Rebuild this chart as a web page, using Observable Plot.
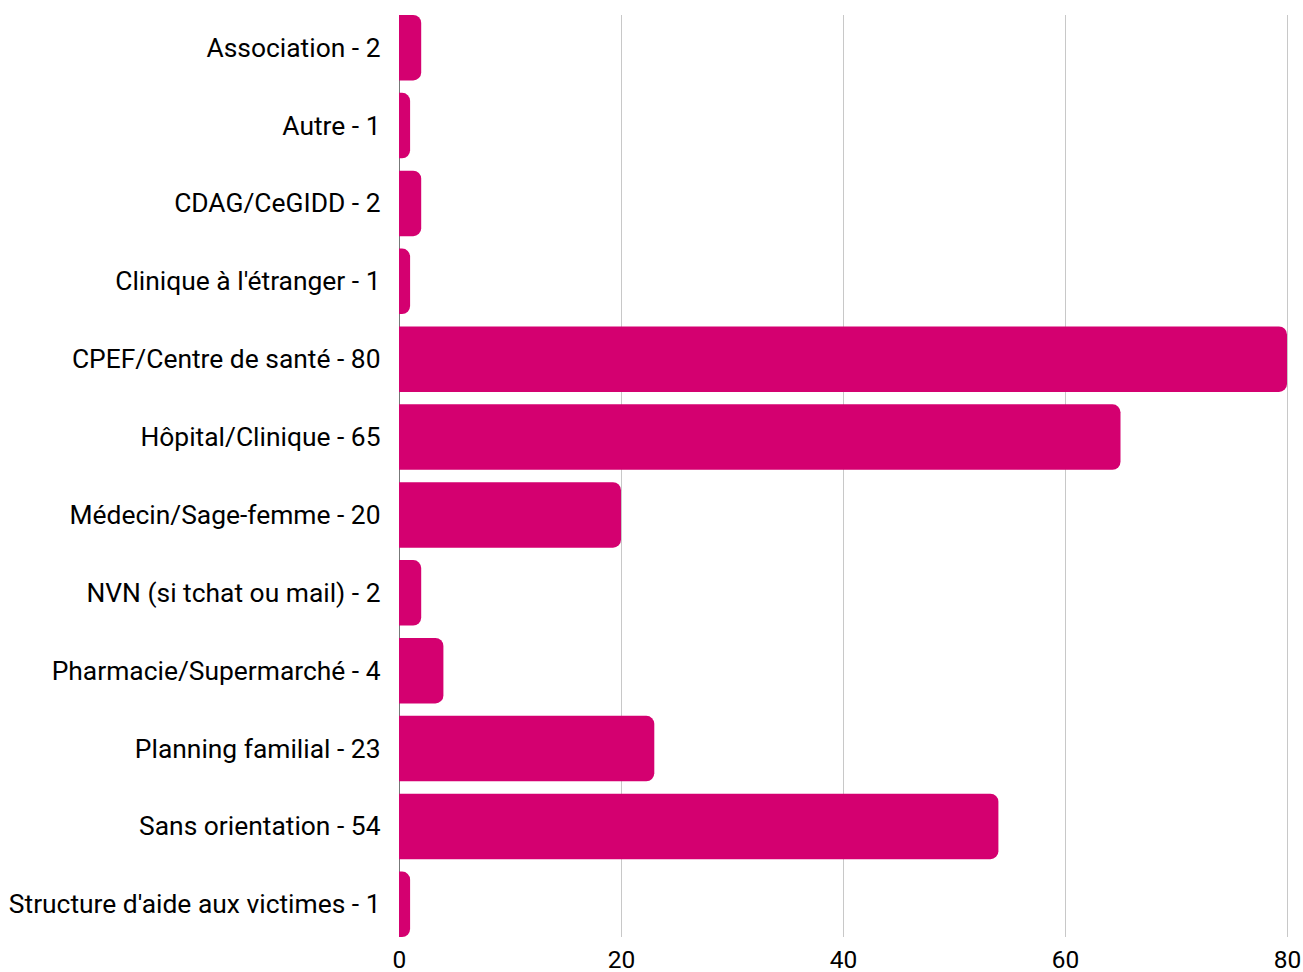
<!DOCTYPE html>
<html>
<head>
<meta charset="utf-8">
<script src="https://cdn.jsdelivr.net/npm/d3@7"></script>
<script src="https://cdn.jsdelivr.net/npm/@observablehq/plot@0.6"></script>
<style>
  html, body { margin: 0; padding: 0; background: #fff; }
  #chart svg { display: block; }
</style>
</head>
<body>
<div id="chart"></div>
<script>
const categories = [
  "Association",
  "Autre",
  "CDAG/CeGIDD",
  "Clinique à l'étranger",
  "CPEF/Centre de santé",
  "Hôpital/Clinique",
  "Médecin/Sage-femme",
  "NVN (si tchat ou mail)",
  "Pharmacie/Supermarché",
  "Planning familial",
  "Sans orientation",
  "Structure d'aide aux victimes"
];
const values = [2, 1, 2, 1, 80, 65, 20, 2, 4, 23, 54, 1];
const xTicks = [0, 20, 40, 60, 80];

const data = categories.map((c, i) => ({label: `${c} - ${values[i]}`, value: values[i]}));
const labels = data.map(d => d.label);

const chart = Plot.plot({
  width: 1303,
  height: 972,
  marginTop: 15,
  marginBottom: 35,
  marginLeft: 399,
  marginRight: 16,
  style: {fontFamily: "Roboto, sans-serif", fontSize: "26px", color: "#000", background: "#fff", overflow: "visible"},
  x: {domain: [0, 80], ticks: xTicks, label: null, tickSize: 0, tickPadding: 13},
  y: {domain: labels, paddingInner: 0.16, paddingOuter: 0, round: false, label: null, tickSize: 0, tickPadding: 19},
  marks: [
    Plot.gridX(xTicks, {stroke: "#c8c8c8", strokeOpacity: 1}),
    Plot.ruleX([0], {stroke: "#777"}),
    Plot.barX(data, {y: "label", x: "value", fill: "#d40070", rx2: 8}),
    Plot.axisX({ticks: xTicks, tickSize: 0, tickPadding: 13, fontSize: 24.5, fill: "#000"}),
    Plot.axisY({tickSize: 0, tickPadding: 19, fontSize: 26.4, fill: "#000"})
  ]
});
document.getElementById("chart").appendChild(chart);
</script>
</body>
</html>
